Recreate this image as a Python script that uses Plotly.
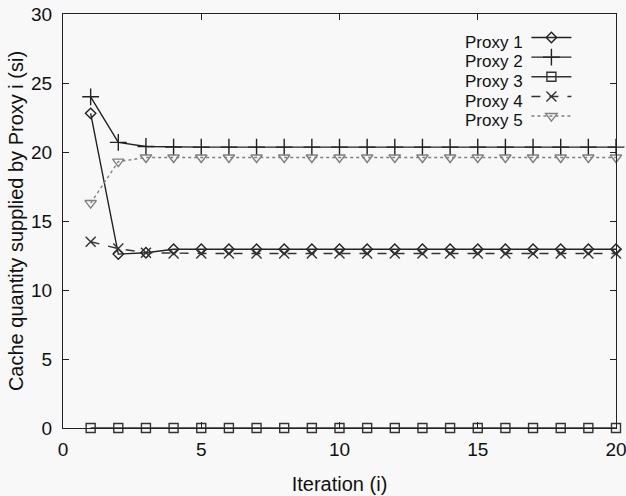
import plotly.graph_objects as go

iterations = list(range(1, 21))
proxy1 = [22.8, 12.6, 12.7] + [12.95] * 17
proxy2 = [24.0, 20.7, 20.4] + [20.35] * 17
proxy3 = [0.0] * 20
proxy4 = [13.5, 13.0, 12.7] + [12.65] * 17
proxy5 = [16.3, 19.3, 19.6] + [19.6] * 17

names = ["Proxy 1", "Proxy 2", "Proxy 3", "Proxy 4", "Proxy 5"]
series = [proxy1, proxy2, proxy3, proxy4, proxy5]
symbols = ["diamond-open", "cross-thin-open", "square-open", "x-thin-open", "triangle-down-open"]
colors = ["#222222", "#222222", "#333333", "#333333", "#808080"]
dashes = ["solid", "solid", "solid", "dash", "dot"]
sizes = [8, 12, 9, 10, 10]

FONT = "Liberation Sans, Arial, sans-serif"

fig = go.Figure()
for n, s, sym, c, d, sz in zip(names, series, symbols, colors, dashes, sizes):
    fig.add_trace(go.Scatter(
        x=iterations, y=s, mode="lines+markers", name=" ", cliponaxis=False,
        line=dict(color=c, width=1.4, dash=d),
        marker=dict(symbol=sym, size=sz, color=c, line=dict(color=c, width=1.4)),
    ))

# legend labels placed to the left of the line samples (gnuplot style)
ROW = 0.0476
for k, n in enumerate(names):
    fig.add_annotation(
        xref="paper", yref="paper", x=0.836, y=0.932 - k * ROW,
        text=n, showarrow=False, xanchor="right", yanchor="middle",
        font=dict(family=FONT, size=17, color="#111111"),
    )

axis_common = dict(
    showgrid=False, zeroline=False, showline=True, linecolor="#222222", linewidth=1.2,
    mirror="ticks", ticks="inside", ticklen=6, tickcolor="#222222",
    tickfont=dict(family=FONT, size=19, color="#111111"), automargin=False,
    ticklabeloverflow="allow",
)

fig.update_layout(
    width=626, height=496,
    margin=dict(l=63, r=10, t=14, b=68),
    paper_bgcolor="#f8f8f8", plot_bgcolor="#f8f8f8",
    showlegend=True,
    legend=dict(x=0.838, y=0.979, xanchor="left", yanchor="top",
                bgcolor="rgba(0,0,0,0)", tracegroupgap=0,
                font=dict(family=FONT, size=12.8),
                itemwidth=40),
    xaxis=dict(range=[0, 20], tickvals=[0, 5, 10, 15, 20], ticklabelstandoff=4,
               title=dict(text="Iteration (i)", standoff=18,
                          font=dict(family=FONT, size=20, color="#111111")),
               **axis_common),
    yaxis=dict(range=[0, 30], tickvals=[0, 5, 10, 15, 20, 25, 30], ticklabelstandoff=6,
               title=dict(text="Cache quantity supplied by Proxy i (si)", standoff=1,
                          font=dict(family=FONT, size=20, color="#111111")),
               **axis_common),
)

fig.write_html("out.html")
